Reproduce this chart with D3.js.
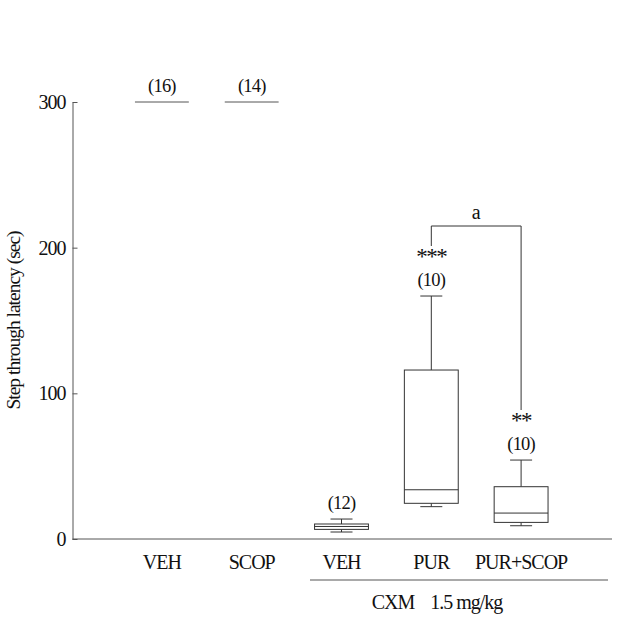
<!DOCTYPE html>
<html>
<head>
<meta charset="utf-8">
<script src="https://cdn.jsdelivr.net/npm/d3@7"></script>
<style>
body{margin:0;background:#fff;}
text{font-family:"Liberation Serif",serif;fill:#111;}
</style>
</head>
<body>
<div id="chart"></div>
<script>
// group ids and their printed labels
var groups=["g1","g2","g3","g4","g5"];
var groupLabels=["VEH","SCOP","VEH","PUR","PUR+SCOP"];
// box stats per group (sec)
var whiskLow=[300,300,4.8,22.2,9.1];
var q1=[300,300,6.6,24.5,11.4];
var median=[300,300,8.6,33.8,17.8];
var q3=[300,300,10.3,116,35.9];
var whiskHigh=[300,300,13.7,166.8,54.2];
var nLabels=["(16)","(14)","(12)","(10)","(10)"];
var sigLabels=["","","","***","**"];
var yTicks=[0,100,200,300];

var W=618,H=622;
var svg=d3.select("#chart").append("svg")
	.attr("width",W)
	.attr("height",H);

var y=d3.scaleLinear().domain([0,300]).range([539,102]);
var x=d3.scaleBand().domain(groups).range([117,566]).padding(0);
var boxW=x.bandwidth()*0.6;
var capW=22;
var stroke="#333";

function cx(i){return x(groups[i])+x.bandwidth()/2;}

// y axis, ticks pointing inward
var yAxis=svg.append("g")
	.attr("transform","translate(72.5,0)")
	.call(d3.axisLeft(y).tickValues(yTicks).tickSize(-5).tickSizeOuter(0));
yAxis.select(".domain").attr("stroke","#555");
yAxis.selectAll(".tick line").attr("stroke","#555");
yAxis.selectAll(".tick text")
	.attr("font-family","Liberation Serif")
	.attr("font-size",20)
	.attr("letter-spacing",-1)
	.attr("fill","#111")
	.attr("x",-7);

// baseline
svg.append("line")
	.attr("x1",72.5).attr("x2",612)
	.attr("y1",y(0)).attr("y2",y(0))
	.attr("stroke","#555");

svg.append("text")
	.attr("transform","translate(20,"+((y(0)+y(300))/2)+") rotate(-90)")
	.attr("text-anchor","middle")
	.attr("font-size",19.5)
	.attr("letter-spacing",-1)
	.text("Step through latency (sec)");

// boxes
var box=svg.selectAll("g.box")
	.data(groups)
	.enter()
	.append("g")
	.attr("class","box");

box.each(function(d,i){
	var g=d3.select(this);
	var c=cx(i);
	if(q3[i]===q1[i]){
		g.append("line")
			.attr("x1",c-boxW/2).attr("x2",c+boxW/2)
			.attr("y1",y(q3[i])).attr("y2",y(q3[i]))
			.attr("stroke","#555");
		return;
	}
	g.append("line")
		.attr("x1",c).attr("x2",c)
		.attr("y1",y(whiskHigh[i])).attr("y2",y(q3[i]))
		.attr("stroke",stroke);
	g.append("line")
		.attr("x1",c).attr("x2",c)
		.attr("y1",y(q1[i])).attr("y2",y(whiskLow[i]))
		.attr("stroke",stroke);
	g.append("line")
		.attr("x1",c-capW/2).attr("x2",c+capW/2)
		.attr("y1",y(whiskHigh[i])).attr("y2",y(whiskHigh[i]))
		.attr("stroke",stroke);
	g.append("line")
		.attr("x1",c-capW/2).attr("x2",c+capW/2)
		.attr("y1",y(whiskLow[i])).attr("y2",y(whiskLow[i]))
		.attr("stroke",stroke);
	g.append("rect")
		.attr("x",c-boxW/2)
		.attr("y",y(q3[i]))
		.attr("width",boxW)
		.attr("height",y(q1[i])-y(q3[i]))
		.attr("fill","#fff")
		.attr("stroke",stroke);
	g.append("line")
		.attr("x1",c-boxW/2).attr("x2",c+boxW/2)
		.attr("y1",y(median[i])).attr("y2",y(median[i]))
		.attr("stroke",stroke);
});

// n and significance labels
box.append("text")
	.attr("x",function(d,i){return cx(i);})
	.attr("y",function(d,i){return y(whiskHigh[i])-10;})
	.attr("text-anchor","middle")
	.attr("font-size",18.5)
	.attr("letter-spacing",-0.8)
	.text(function(d,i){return nLabels[i];});

box.append("text")
	.attr("x",function(d,i){return cx(i);})
	.attr("y",function(d,i){return y(whiskHigh[i])-32;})
	.attr("text-anchor","middle")
	.attr("font-size",23)
	.attr("letter-spacing",-1.5)
	.text(function(d,i){return sigLabels[i];});

// bracket between PUR and PUR+SCOP
var b1=cx(3),b2=cx(4);
svg.append("path")
	.attr("d","M"+b1+" "+246+" L"+b1+" "+226+" L"+b2+" "+226+" L"+b2+" "+410)
	.attr("fill","none")
	.attr("stroke",stroke);
svg.append("text")
	.attr("x",(b1+b2)/2)
	.attr("y",219)
	.attr("text-anchor","middle")
	.attr("font-size",20)
	.text("a");

// category labels
svg.selectAll("text.cat")
	.data(groups)
	.enter()
	.append("text")
	.attr("class","cat")
	.attr("x",function(d,i){return cx(i);})
	.attr("y",569)
	.attr("text-anchor","middle")
	.attr("font-size",20)
	.attr("letter-spacing",-1)
	.text(function(d,i){return groupLabels[i];});

svg.append("line")
	.attr("x1",310).attr("x2",608)
	.attr("y1",580).attr("y2",580)
	.attr("stroke","#555");

svg.append("text")
	.attr("x",437)
	.attr("y",609)
	.attr("text-anchor","middle")
	.attr("font-size",20)
	.attr("letter-spacing",-1)
	.attr("xml:space","preserve")
	.text("CXM    1.5 mg/kg");
</script>
</body>
</html>
